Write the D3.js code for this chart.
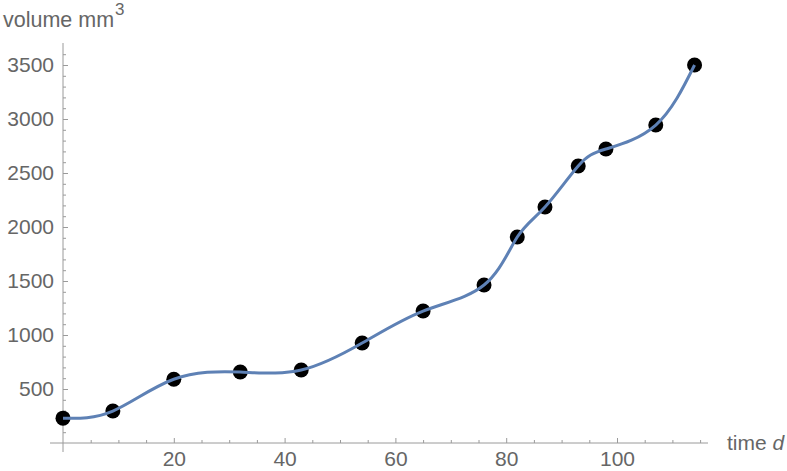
<!DOCTYPE html>
<html>
<head>
<meta charset="utf-8">
<script src="https://cdn.jsdelivr.net/npm/d3@7"></script>
<style>
  body { margin: 0; background: #fff; }
  text { font-family: "Liberation Sans", Arial, sans-serif; fill: #666; }
</style>
</head>
<body>
<div id="chart"></div>
<script>
// measured tumour volume over time
var days = [0, 9, 20, 32, 43, 54, 65, 76, 82, 87, 93, 98, 107, 114];
var volume = [230, 296, 590, 657, 676, 926, 1222, 1463, 1907, 2185, 2565, 2722, 2944, 3500];
var xTicks = [20, 40, 60, 80, 100];
var yTicks = [500, 1000, 1500, 2000, 2500, 3000, 3500];

var width = 787,
    height = 471;

var svg = d3.select("#chart")
    .append("svg")
    .attr("width", width)
    .attr("height", height);

var x = d3.scaleLinear().domain([0, 100]).range([63, 617]);
var y = d3.scaleLinear().domain([0, 3500]).range([443, 65]);

var axisColor = "#9a9a9a";
var fmt = d3.format("d");

// axis lines, they run a little past the origin like Mathematica does
svg.append("line")
    .attr("x1", 50).attr("x2", 708)
    .attr("y1", y(0)).attr("y2", y(0))
    .attr("stroke", axisColor).attr("stroke-width", 1);
svg.append("line")
    .attr("x1", x(0)).attr("x2", x(0))
    .attr("y1", 43).attr("y2", 452)
    .attr("stroke", axisColor).attr("stroke-width", 1);

// minor ticks
var xMinor = d3.range(5, 116, 5).filter(function (d) { return d % 20 != 0; });
var yMinor = d3.range(100, 3700, 100).filter(function (d) { return d % 500 != 0; });

svg.append("g")
    .attr("transform", "translate(0," + y(0) + ")")
    .call(d3.axisBottom(x).tickValues(xMinor).tickSizeInner(-3).tickSizeOuter(0).tickFormat(""))
    .call(function (g) { g.select(".domain").remove(); });

svg.append("g")
    .attr("transform", "translate(" + x(0) + ",0)")
    .call(d3.axisLeft(y).tickValues(yMinor).tickSizeInner(-3).tickSizeOuter(0).tickFormat(""))
    .call(function (g) { g.select(".domain").remove(); });

// major ticks + labels
svg.append("g")
    .attr("transform", "translate(0," + y(0) + ")")
    .call(d3.axisBottom(x).tickValues(xTicks).tickFormat(fmt).tickSizeInner(-5).tickSizeOuter(0).tickPadding(8))
    .call(function (g) { g.select(".domain").remove(); });

svg.append("g")
    .attr("transform", "translate(" + x(0) + ",0)")
    .call(d3.axisLeft(y).tickValues(yTicks).tickFormat(fmt).tickSizeInner(-5).tickSizeOuter(0).tickPadding(9))
    .call(function (g) { g.select(".domain").remove(); });

svg.selectAll(".tick line").attr("stroke", axisColor);
svg.selectAll(".tick text")
    .attr("fill", "#666")
    .style("font-size", "21px")
    .style("font-family", "'Liberation Sans', Arial, sans-serif");

// axis labels
svg.append("text")
    .attr("x", 727).attr("y", 450)
    .style("font-size", "21px")
    .html("time <tspan font-style='italic'>d</tspan>");

var yl = svg.append("text")
    .attr("x", 3).attr("y", 27)
    .style("font-size", "21.5px");
yl.append("tspan").text("volume mm");
yl.append("tspan").attr("dx", 1).attr("dy", -12).style("font-size", "17px").text("3");

// curve
var pts = days.map(function (d, i) { return [d, volume[i]]; });

var line = d3.line()
    .x(function (d) { return x(d[0]); })
    .y(function (d) { return y(d[1]); })
    .curve(d3.curveNatural);

svg.selectAll("circle")
    .data(pts)
    .enter().append("circle")
    .attr("cx", function (d) { return x(d[0]); })
    .attr("cy", function (d) { return y(d[1]); })
    .attr("r", 7.5)
    .attr("fill", "#000");

// line on top so it runs through the dots
svg.append("path")
    .datum(pts)
    .attr("d", line)
    .attr("fill", "none")
    .attr("stroke", "#5e81b5")
    .attr("stroke-width", 3);
</script>
</body>
</html>
